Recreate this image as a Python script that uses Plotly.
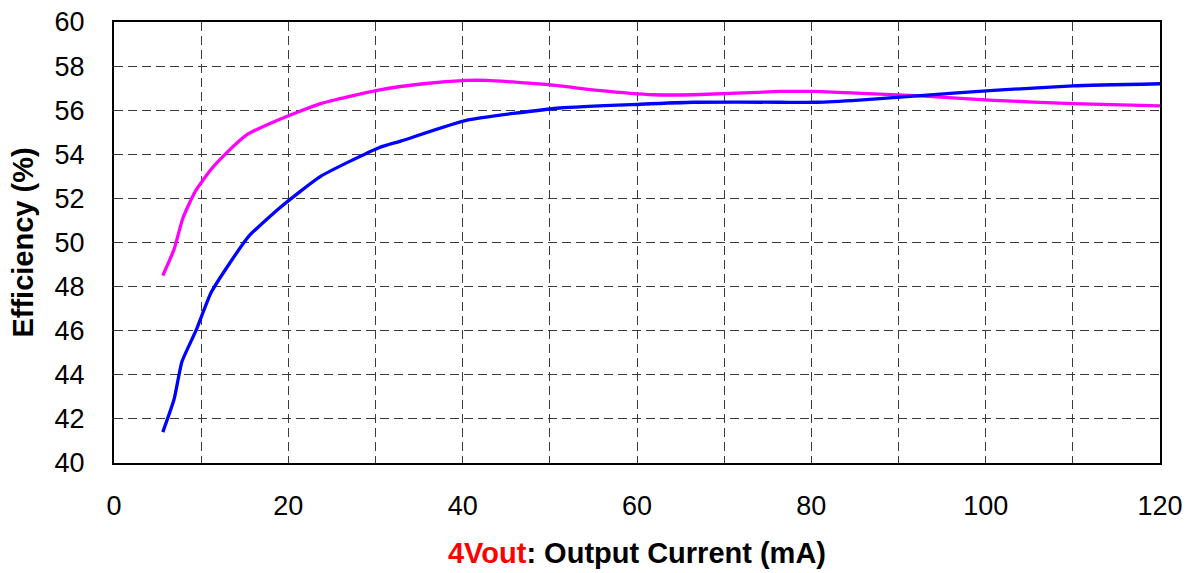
import plotly.graph_objects as go

# Output current (mA) and efficiency (%) for each curve
magenta_current = [5.6, 6.9, 7.9, 9.3, 11.1, 13.0, 15.3, 18.5, 23.7, 30.2, 35.5,
                   40.5, 42.8, 50.1, 55.5, 61.9, 66.5, 76.4, 80.4, 92.5, 100.9,
                   110.0, 120.0]
magenta_eff = [48.5, 49.7, 51.1, 52.3, 53.3, 54.1, 54.9, 55.5, 56.3, 56.9, 57.2,
               57.35, 57.35, 57.15, 56.9, 56.7, 56.7, 56.85, 56.85, 56.65, 56.45,
               56.3, 56.2]

blue_current = [5.6, 6.9, 7.8, 9.4, 11.1, 13.0, 15.5, 19.1, 23.7, 30.4, 32.9,
                40.5, 51.2, 60.4, 66.5, 76.4, 80.6, 85.5, 92.5, 100.9, 110.0, 120.0]
blue_eff = [41.4, 42.9, 44.6, 46.0, 47.7, 48.9, 50.3, 51.6, 53.0, 54.3, 54.6,
            55.55, 56.1, 56.27, 56.36, 56.36, 56.36, 56.46, 56.66, 56.9, 57.1, 57.2]

x_tick_vals = [0, 10, 20, 30, 40, 50, 60, 70, 80, 90, 100, 110, 120]
x_tick_text = ["0", "", "20", "", "40", "", "60", "", "80", "", "100", "", "120"]
y_tick_vals = [40, 42, 44, 46, 48, 50, 52, 54, 56, 58, 60]

FONT = "Liberation Sans, Arial, sans-serif"
GRID = dict(showgrid=True, gridcolor="#3a3a3a", gridwidth=1.2, griddash="9px,5px")

fig = go.Figure()
fig.add_trace(go.Scatter(x=magenta_current, y=magenta_eff, mode="lines",
                         line=dict(color="#FF00FF", width=3.3, shape="spline", smoothing=0.5),
                         showlegend=False))
fig.add_trace(go.Scatter(x=blue_current, y=blue_eff, mode="lines",
                         line=dict(color="#0000FF", width=3.3, shape="spline", smoothing=0.5),
                         showlegend=False))

fig.update_layout(
    width=1190, height=573,
    margin=dict(l=114, r=30, t=22, b=110),
    paper_bgcolor="white", plot_bgcolor="white",
    font=dict(family=FONT, color="black"),
    xaxis=dict(
        range=[0, 120], tickvals=x_tick_vals, ticktext=x_tick_text,
        ticks="", ticklabelstandoff=18, tickfont=dict(size=27),
        showline=True, linecolor="black", linewidth=2, mirror=True,
        zeroline=False, automargin=False,
        title=dict(text="<b><span style='color:#FF0000'>4Vout</span>: Output Current (mA)</b>",
                   font=dict(size=29), standoff=22),
        **GRID,
    ),
    yaxis=dict(
        range=[40, 60], tickvals=y_tick_vals,
        ticks="", ticklabelstandoff=22, tickfont=dict(size=27),
        showline=True, linecolor="black", linewidth=2, mirror=True,
        zeroline=False, automargin=False,
        title=dict(text="<b>Efficiency (%)</b>", font=dict(size=29), standoff=12),
        **GRID,
    ),
)

fig.write_html("out.html")
